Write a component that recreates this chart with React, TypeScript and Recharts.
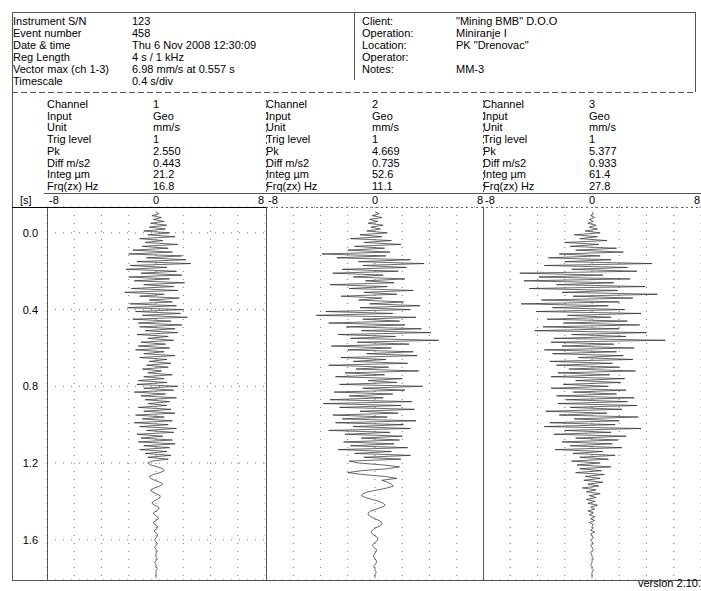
import { LineChart, Line, XAxis, YAxis, CartesianGrid } from 'recharts';

const FONT = '"Liberation Sans", Arial, sans-serif';

// header block
const headerLeftLabels = ['Instrument S/N', 'Event number', 'Date & time', 'Reg Length', 'Vector max (ch 1-3)', 'Timescale'];
const headerLeftValues = ['123', '458', 'Thu 6 Nov 2008 12:30:09', '4 s / 1 kHz', '6.98 mm/s at 0.557 s', '0.4 s/div'];
const headerRightLabels = ['Client:', 'Operation:', 'Location:', 'Operator:', 'Notes:'];
const headerRightValues = ['"Mining BMB" D.O.O', 'Miniranje I', 'PK "Drenovac"', '', 'MM-3'];

// per-channel summary table
const channelRowLabels = ['Channel', 'Input', 'Unit', 'Trig level', 'Pk', 'Diff m/s2', 'Integ µm', 'Frq(zx) Hz'];
const ch1Info = ['1', 'Geo', 'mm/s', '1', '2.550', '0.443', '21.2', '16.8'];
const ch2Info = ['2', 'Geo', 'mm/s', '1', '4.669', '0.735', '52.6', '11.1'];
const ch3Info = ['3', 'Geo', 'mm/s', '1', '5.377', '0.933', '61.4', '27.8'];

const ampTicks = [-8, -6, -4, -2, 0, 2, 4, 6, 8];
const ampLabels = [-8, 0, 8];
const timeTicks = [0, 0.4, 0.8, 1.2, 1.6];

// samples every 10 ms starting at -0.11 s (mm/s)
const T_START = -0.11;
const T_STEP = 0.01;

const ch1Velocity = [
  0.0, 0.2, -0.3, 0.4, -0.2, 0.6, -0.4, 0.8, -0.5, 0.7,
  -0.9, 1.0, -0.6, 1.4, -1.2, 0.5, -0.8, 1.6, -1.0, 0.9,
  -1.7, 1.2, -2.0, 1.9, -0.7, 2.2, -1.4, 2.55, -1.9, 0.8,
  -2.2, 1.5, -1.1, 1.9, -2.0, 1.0, -1.6, 2.1, -0.9, 1.3,
  -1.8, 1.6, -2.3, 0.6, -1.2, 1.7, -0.5, 1.2, -1.9, 1.5,
  -2.1, 2.0, -1.5, 1.8, -1.0, 2.3, -1.7, 1.1, -1.3, 1.9,
  -1.2, 1.4, -0.8, 1.6, -1.4, 0.9, -0.6, 1.3, -1.1, 0.7,
  -1.3, 1.0, -1.5, 0.6, -0.9, 1.4, -1.2, 0.8, -0.5, 1.1,
  -0.7, 0.9, -1.0, 0.4, -0.6, 1.2, -0.9, 0.6, -1.3, 0.8,
  -1.4, 1.6, -0.9, 1.3, -1.6, 0.7, -1.1, 1.5, -0.8, 1.0,
  -0.6, 0.8, -1.3, 1.1, -0.9, 1.4, -1.5, 0.6, -1.0, 1.2,
  -1.6, 0.9, -1.2, 1.5, -0.7, 1.3, -1.4, 0.5, -1.1, 1.2,
  -1.3, 1.4, -0.9, 1.0, -1.2, 0.8, -0.8, 1.1, -0.6, 0.9,
  -0.3, -0.6, -0.4, 0.1, 0.5, 0.6, 0.3, -0.2, -0.5, -0.4,
  -0.1, 0.3, 0.5, 0.3, -0.1, -0.4, -0.3, 0.0, 0.3, 0.3,
  0.1, -0.2, -0.3, -0.1, 0.2, 0.2, 0.0, -0.2, -0.1, 0.1,
  0.2, 0.0, -0.2, -0.1, 0.1, 0.1, -0.1, -0.1, 0.1, 0.1,
  0.0, -0.1, 0.0, 0.1, 0.0, -0.1, 0.0, 0.1, 0.0, 0.0,
  0.0, 0.1, 0.0, -0.1, 0.0, 0.0, 0.1, 0.0, 0.0, 0.0,
  0.0, 0.0,
];

const ch2Velocity = [
  0.0, 0.3, -0.2, 0.5, -0.4, 0.2, -0.5, 0.6, -0.3, 0.4,
  -0.6, 0.9, -1.1, 0.5, -1.8, 1.2, -0.8, 1.9, -1.5, 0.7,
  -2.0, 1.1, -3.9, 0.8, -2.8, 2.6, -1.2, 3.6, -0.9, 2.3,
  -2.4, 1.7, -3.1, 0.6, -1.6, 2.2, -0.7, 1.4, -3.3, 0.9,
  -1.9, 2.8, -0.8, 1.6, -2.5, 0.5, -1.2, 2.1, -0.4, 3.3,
  -1.1, 2.6, -3.6, 1.3, -4.3, 3.0, -0.9, 1.8, -3.4, 2.2,
  -2.1, 3.4, -1.0, 4.1, -2.7, 1.5, -1.8, 4.669, -1.3, 2.5,
  -3.2, 1.2, -2.0, 2.8, -0.6, 3.1, -2.5, 0.8, -1.6, 2.4,
  -3.4, 1.0, -1.4, 3.2, -2.2, 0.7, -2.9, 2.0, -0.5, 1.6,
  -2.6, 3.5, -0.9, 2.2, -3.0, 1.3, -1.9, 0.6, -3.3, 2.7,
  -3.8, 1.9, -2.6, 2.9, -1.1, 1.7, -3.1, 0.9, -2.4, 3.0,
  -2.9, 2.1, -1.6, 2.6, -3.4, 1.1, -2.2, 2.0, -1.0, 1.8,
  -2.3, 1.4, -1.8, 2.4, -2.7, 1.2, -1.5, 2.6, -0.8, 1.9,
  -1.9, -1.2, 0.6, 1.8, 0.9, -1.0, -2.0, -0.9, 0.7, 1.6,
  0.5, 0.9, 1.2, 1.35, 0.9, 0.2, -0.5, -0.9, -1.0, -0.7,
  -0.2, 0.3, 0.6, 0.75, 0.5, 0.1, -0.3, -0.5, -0.5, -0.3,
  0.0, 0.3, 0.5, 0.5, 0.3, 0.0, -0.2, -0.3, -0.2, 0.0,
  0.2, 0.2, 0.1, -0.1, -0.2, -0.1, 0.1, 0.1, 0.0, -0.1,
  -0.1, 0.0, 0.1, 0.1, 0.0, -0.1, 0.0, 0.0, 0.1, 0.0,
  0.0, 0.0,
];

const ch3Velocity = [
  0.0, 0.1, -0.1, 0.2, -0.2, 0.1, -0.3, 0.3, -0.2, 0.4,
  -0.5, 0.6, -1.3, 0.4, -0.9, 1.1, -2.0, 0.5, -1.6, 1.8,
  -1.2, 2.3, -2.4, 0.6, -3.2, 1.4, -2.0, 4.4, -3.5, 2.6,
  -1.5, 3.3, -5.3, 0.8, -3.9, 2.8, -5.0, 1.6, -2.6, 3.9,
  -4.6, 1.9, -2.2, 4.8, -1.4, 3.0, -3.7, 2.0, -5.2, 1.2,
  -2.9, 2.4, -4.1, 3.6, -1.8, 1.4, -3.3, 2.6, -2.1, 3.5,
  -3.6, 2.0, -4.2, 4.0, -1.5, 2.5, -2.8, 5.377, -3.0, 1.6,
  -2.2, 3.1, -3.5, 1.8, -2.9, 2.3, -1.0, 3.0, -3.1, 1.5,
  -2.6, 2.0, -1.7, 3.2, -2.5, 1.3, -3.0, 2.4, -1.2, 2.1,
  -2.1, 1.2, -3.0, 2.5, -1.4, 1.8, -2.6, 3.1, -1.9, 2.6,
  -2.5, 3.3, -1.6, 2.2, -3.4, 1.1, -2.4, 3.4, -1.3, 2.0,
  -3.1, 1.7, -3.5, 3.6, -2.0, 1.4, -2.8, 2.5, -1.2, 1.9,
  -2.2, 1.5, -1.6, 2.2, -2.7, 0.8, -1.4, 1.7, -0.9, 1.2,
  -1.5, 0.6, -1.1, 1.4, -0.9, 0.7, -1.2, 0.9, -0.5, 0.6,
  -0.6, 0.8, -0.3, 0.5, -0.7, 0.3, -0.4, 0.6, -0.2, 0.3,
  -0.4, 0.2, -0.3, 0.4, -0.1, 0.2, -0.3, 0.1, -0.2, 0.2,
  -0.1, 0.2, -0.2, 0.1, 0.0, 0.1, -0.1, 0.2, -0.1, 0.0,
  0.1, -0.1, 0.0, 0.1, -0.1, 0.0, 0.1, 0.0, -0.1, 0.0,
  0.0, 0.1, 0.0, 0.0, -0.1, 0.0, 0.0, 0.1, 0.0, 0.0,
  0.0, 0.0,
];

// visible time window of the trace panels (time runs downward)
const T_TOP = -0.135;
const T_BOTTOM = 1.81;

const PANEL_TOP = 193;
const PANEL_HEIGHT = 387;
const AXIS_ROW = 14;
const PANEL_W = 218;
const TIME_AXIS_W = 35;

function toSeries(values: number[]) {
  return values.map((v, i) => ({ t: Math.round((T_START + i * T_STEP) * 1000) / 1000, v }));
}

// eslint-disable-next-line @typescript-eslint/no-explicit-any
function AmpTick(props: any) {
  const { x, payload } = props;
  const v = payload.value;
  if (!ampLabels.includes(v)) return null;
  const anchor = v < 0 ? 'start' : v > 0 ? 'end' : 'middle';
  const dx = v < 0 ? 2 : v > 0 ? -1 : 0;
  return (
    <text x={x + dx} y={11} textAnchor={anchor} fontSize={11} fontFamily={FONT} fill="#000">
      {v}
    </text>
  );
}

// eslint-disable-next-line @typescript-eslint/no-explicit-any
function TimeTick(props: any) {
  const { y, payload } = props;
  return (
    <text x={26} y={y + 4} textAnchor="end" fontSize={11} fontFamily={FONT} fill="#000">
      {Number(payload.value).toFixed(1)}
    </text>
  );
}

function ChannelTrace({ values, left, showTime }: { values: number[]; left: number; showTime?: boolean }) {
  const data = toSeries(values);
  const axisW = showTime ? TIME_AXIS_W : 0;
  return (
    <div style={{ position: 'absolute', left: left - axisW, top: PANEL_TOP }}>
      <LineChart
        layout="vertical"
        width={PANEL_W + axisW}
        height={PANEL_HEIGHT}
        data={data}
        margin={{ top: 0, right: 0, bottom: 0, left: 0 }}
      >
        <CartesianGrid stroke="#777" strokeDasharray="1 7" />
        <XAxis
          type="number"
          orientation="top"
          domain={[-8, 8]}
          ticks={ampTicks}
          interval={0}
          height={AXIS_ROW}
          axisLine={false}
          tickLine={false}
          tick={<AmpTick />}
          allowDataOverflow
        />
        <YAxis
          type="number"
          dataKey="t"
          domain={[T_TOP, T_BOTTOM]}
          ticks={timeTicks}
          interval={0}
          width={axisW}
          axisLine={false}
          tickLine={false}
          tick={showTime ? <TimeTick /> : false}
          allowDataOverflow
        />
        <Line
          type="linear"
          dataKey="v"
          stroke="#2a2a2a"
          strokeWidth={0.7}
          dot={false}
          isAnimationActive={false}
        />
      </LineChart>
    </div>
  );
}

const txt = (x: number, y: number, s: string, key: string) => (
  <text key={key} x={x} y={y + 4} fontSize={11} fontFamily={FONT} fill="#000">
    {s}
  </text>
);

export default function App() {
  const panelLefts = [47, 266, 483];
  const infos = [ch1Info, ch2Info, ch3Info];
  return (
    <div
      style={{
        position: 'absolute',
        left: 0,
        top: 0,
        width: 701,
        height: 591,
        overflow: 'hidden',
        background: '#fff',
      }}
    >
      <ChannelTrace values={ch1Velocity} left={panelLefts[0]} showTime />
      <ChannelTrace values={ch2Velocity} left={panelLefts[1]} />
      <ChannelTrace values={ch3Velocity} left={panelLefts[2]} />

      <svg width={701} height={591} style={{ position: 'absolute', left: 0, top: 0, pointerEvents: 'none' }}>
        {/* frame */}
        <g stroke="#555" strokeWidth={1} fill="none" shapeRendering="crispEdges">
          <line x1={12} y1={12} x2={695} y2={12} />
          <line x1={12} y1={12} x2={12} y2={580} />
          <line x1={695} y1={12} x2={695} y2={92} />
          <line x1={354} y1={12} x2={354} y2={80} />
          <line x1={12} y1={92} x2={695} y2={92} strokeDasharray="6 3" />
          <line x1={44} y1={193} x2={701} y2={193} />
          <line x1={12} y1={580} x2={701} y2={580} />
          {panelLefts.map((x) => (
            <line key={x} x1={x} y1={207} x2={x} y2={580} />
          ))}
          {panelLefts.slice(1).map((x) => (
            <line key={`t${x}`} x1={x} y1={100} x2={x} y2={193} strokeDasharray="2 4" />
          ))}
        </g>
        <line x1={12} y1={207} x2={266} y2={207} stroke="#000" shapeRendering="crispEdges" />
        <line x1={266} y1={207} x2={701} y2={207} stroke="#666" strokeDasharray="2 3" shapeRendering="crispEdges" />

        {headerLeftLabels.map((s, i) => txt(13, 21 + i * 12, s, `hl${i}`))}
        {headerLeftValues.map((s, i) => txt(132, 21 + i * 12, s, `hv${i}`))}
        {headerRightLabels.map((s, i) => txt(362, 21 + i * 12, s, `rl${i}`))}
        {headerRightValues.map((s, i) => txt(456, 21 + i * 12, s, `rv${i}`))}

        {panelLefts.map((px, c) => (
          <g key={`ch${c}`}>
            {channelRowLabels.map((s, i) => txt(px, 104 + i * 11.7, s, `cl${c}-${i}`))}
            {infos[c].map((s, i) => txt(px + 106, 104 + i * 11.7, s, `cv${c}-${i}`))}
          </g>
        ))}

        {txt(20, 200, '[s]', 'unit')}
        {txt(638, 583, 'version 2.10.', 'ver')}
      </svg>
    </div>
  );
}
